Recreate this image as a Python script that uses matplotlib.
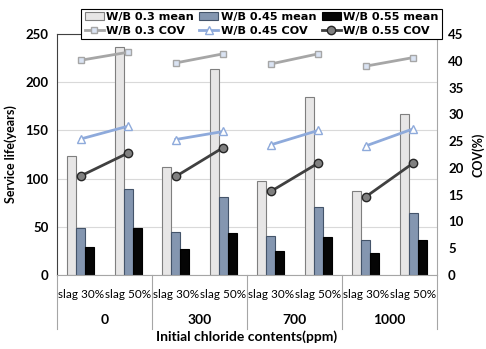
import matplotlib
matplotlib.use("Agg")
import matplotlib.pyplot as plt
import matplotlib.transforms as mtransforms
import numpy as np

plt.rcParams['font.family'] = ['Lato', 'DejaVu Sans']
plt.rcParams['font.weight'] = 'bold'
plt.rcParams['axes.labelweight'] = 'bold'

groups = ["0", "300", "700", "1000"]
slags = ["slag 30%", "slag 50%"]
mean_03 = [123, 236, 112, 214, 97, 185, 87.5, 167]
mean_045 = [49, 89.5, 45, 81, 40, 71, 36.6, 64]
mean_055 = [29, 49, 27, 44, 25, 39.5, 22.5, 36]
cov_03 = [40.1, 41.6, 39.6, 41.3, 39.4, 41.3, 39.0, 40.6]
cov_045 = [25.4, 27.8, 25.3, 26.8, 24.3, 27.0, 24.1, 27.3]
cov_055 = [18.5, 22.8, 18.4, 23.8, 15.6, 20.9, 14.6, 20.9]

fig = plt.figure(figsize=(4.86, 3.49), dpi=100)
ax = fig.add_axes([57/486, 1-275/349, 380/486, 241/349])
ax2 = ax.twinx()

x = np.arange(len(mean_03))
w = 0.19
b1 = ax.bar(x - w, mean_03, w, color='#e7e6e6', edgecolor='#7f7f7f', linewidth=0.8, zorder=2, label='W/B 0.3 mean')
b2 = ax.bar(x, mean_045, w, color='#8496b0', edgecolor='#44546a', linewidth=0.8, zorder=2, label='W/B 0.45 mean')
b3 = ax.bar(x + w, mean_055, w, color='#050505', edgecolor='#000000', linewidth=0.8, zorder=2, label='W/B 0.55 mean')

ax.set_xlim(-0.5, len(x) - 0.5)
ax.set_ylim(0, 250)
ax.set_yticks(np.arange(0, 251, 50))
ax.grid(axis='y', color='#d9d9d9', linewidth=0.8, zorder=0)
ax.set_axisbelow(True)

sty03 = dict(color='#a6a6a6', lw=2, marker='s', ms=5, mfc='#dae3f3', mec='#a6a6a6', mew=1)
sty045 = dict(color='#8eaadb', lw=2, marker='^', ms=5.5, mfc='white', mec='#8eaadb', mew=1)
sty055 = dict(color='#404040', lw=2, marker='o', ms=6, mfc='#808080', mec='#262626', mew=1)
l1 = l2 = l3 = None
for g in range(4):
    s = slice(2*g, 2*g+2)
    a1, = ax2.plot(x[s], cov_03[s], **sty03)
    a2, = ax2.plot(x[s], cov_045[s], **sty045)
    a3, = ax2.plot(x[s], cov_055[s], **sty055)
    if g == 0:
        l1, l2, l3 = a1, a2, a3
ax2.set_ylim(0, 45)
ax2.set_yticks(np.arange(0, 46, 5))

for a in (ax, ax2):
    for sp in a.spines.values():
        sp.set_visible(False)
ax.spines['left'].set_visible(True)
ax.spines['left'].set_color('#404040')
ax.spines['top'].set_visible(True)
ax.spines['top'].set_color('#404040')
ax2.spines['right'].set_visible(True)
ax2.spines['right'].set_color('#a6a6a6')
ax.spines['bottom'].set_visible(True)
ax.spines['bottom'].set_color('#a6a6a6')

ax.tick_params(axis='y', length=0, labelsize=9.5, pad=6)
ax2.tick_params(axis='y', length=0, labelsize=9.5, pad=8)
ax.set_xticks(x)
ax.set_xticklabels([slags[i % 2] for i in x], fontsize=8.5, fontweight='normal')
ax.tick_params(axis='x', length=0, pad=10)

trans = mtransforms.blended_transform_factory(ax.transData, ax.transAxes)
for k in range(5):
    xb = -0.5 + 2*k
    ax.plot([xb, xb], [0, -0.225], transform=trans, color='#a6a6a6', lw=0.8, clip_on=False)
for g, name in enumerate(groups):
    ax.text(2*g + 0.5, -0.188, name, transform=trans, ha='center', va='center', fontsize=10)

ax.text(0.5, -0.255, 'Initial chloride contents(ppm)', transform=ax.transAxes, ha='center', va='center', fontsize=10)
ax.set_ylabel('Service life(years)', fontsize=9, labelpad=6)
ax2.set_ylabel('COV(%)', fontsize=9, labelpad=6)

handles = [b1, l1, b2, l2, b3, l3]
labels = ['W/B 0.3 mean', 'W/B 0.3 COV', 'W/B 0.45 mean', 'W/B 0.45 COV', 'W/B 0.55 mean', 'W/B 0.55 COV']
leg = ax2.legend(handles, labels, ncol=3, loc='center',
                 bbox_to_anchor=(261.5/486, 1-24/349), bbox_transform=fig.transFigure,
                 prop={'family': 'DejaVu Sans', 'weight': 'bold', 'size': 8.1},
                 frameon=True, fancybox=False, edgecolor='black',
                 framealpha=1, handlelength=1.7, handletextpad=0.2, columnspacing=0.5,
                 labelspacing=0.3, borderpad=0.3, borderaxespad=0)
leg.get_frame().set_linewidth(0.8)

fig.savefig('out.png', dpi=100)
